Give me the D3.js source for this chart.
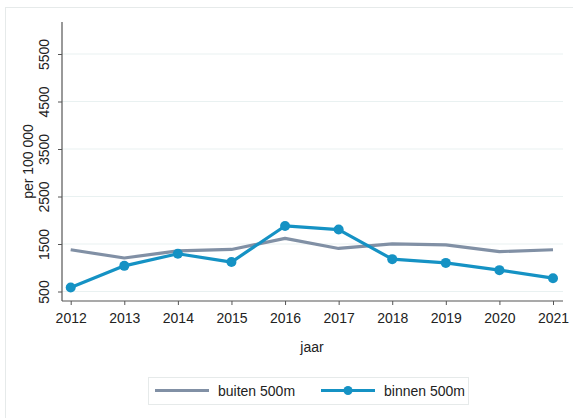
<!DOCTYPE html>
<html>
<head>
<meta charset="utf-8">
<script src="https://cdn.jsdelivr.net/npm/d3@7"></script>
<style>
  body { margin: 0; background: #fff; }
  svg { display: block; font-family: "Liberation Sans", Arial, sans-serif; }
</style>
</head>
<body>
<div id="chart"></div>
<script>
// Data
const years = [2012, 2013, 2014, 2015, 2016, 2017, 2018, 2019, 2020, 2021];
const buiten = [1379, 1205, 1354, 1385, 1619, 1406, 1503, 1482, 1340, 1379];
const binnen = [585, 1040, 1294, 1120, 1880, 1804, 1181, 1102, 950, 780];
const yTicks = [500, 1500, 2500, 3500, 4500, 5500];

const width = 573, height = 418;
const grey = "#8190a5", blue = "#1592c4";

const svg = d3.select("#chart")
    .append("svg")
    .attr("width", width)
    .attr("height", height);

// Outer frame
svg.append("rect")
    .attr("x", 5.5).attr("y", 7.5)
    .attr("width", 620).attr("height", 500)
    .attr("fill", "none")
    .attr("stroke", "#e6eaea");

// Scales
const xScale = d3.scaleLinear().domain([2012, 2021]).range([70.7, 553]);
const yScale = d3.scaleLinear().domain([300, 6174]).range([301, 22]);
const x0 = 62, x1 = 563;

// Gridlines
svg.append("g")
    .selectAll("line")
    .data(yTicks)
    .join("line")
    .attr("x1", x0).attr("x2", x1)
    .attr("y1", d => yScale(d)).attr("y2", d => yScale(d))
    .attr("stroke", "#e9f1f1")
    .attr("stroke-width", 1);

// Y axis
const yAxis = svg.append("g")
    .attr("transform", `translate(${x0},0)`)
    .call(d3.axisLeft(yScale).tickValues(yTicks).tickFormat(d3.format("d")).tickSize(4).tickSizeOuter(0));
yAxis.select(".domain").remove();
yAxis.selectAll(".tick line").attr("stroke", "#555");
yAxis.selectAll(".tick text")
    .attr("transform", "rotate(-90)")
    .attr("x", 0).attr("y", -13).attr("dy", 0)
    .attr("text-anchor", "middle")
    .style("font-size", "14px")
    .attr("fill", "#222");

// X axis
const xAxis = svg.append("g")
    .attr("transform", "translate(0,301)")
    .call(d3.axisBottom(xScale).tickValues(years).tickFormat(d3.format("d")).tickSize(4).tickPadding(8).tickSizeOuter(0));
xAxis.select(".domain").remove();
xAxis.selectAll(".tick line").attr("stroke", "#555");
xAxis.selectAll(".tick text").style("font-size", "14px").attr("fill", "#222");

// Axis lines
svg.append("line")
    .attr("x1", x0).attr("x2", x0).attr("y1", 22).attr("y2", 301)
    .attr("stroke", "#555").attr("stroke-width", 1.2);
svg.append("line")
    .attr("x1", x0).attr("x2", x1).attr("y1", 301).attr("y2", 301)
    .attr("stroke", "#555").attr("stroke-width", 1.2);

// Axis titles
svg.append("text")
    .attr("transform", `translate(33,161.5) rotate(-90)`)
    .attr("text-anchor", "middle")
    .style("font-size", "14px")
    .attr("fill", "#222")
    .text("per 100 000");

svg.append("text")
    .attr("x", 312).attr("y", 352)
    .attr("text-anchor", "middle")
    .style("font-size", "14px")
    .attr("fill", "#222")
    .text("jaar");

// Lines
const line = d3.line()
    .x(d => xScale(d[0]))
    .y(d => yScale(d[1]));

svg.append("path")
    .datum(d3.zip(years, buiten))
    .attr("d", line)
    .attr("fill", "none")
    .attr("stroke", grey)
    .attr("stroke-width", 3.2)
    .attr("stroke-linejoin", "round");

svg.append("path")
    .datum(d3.zip(years, binnen))
    .attr("d", line)
    .attr("fill", "none")
    .attr("stroke", blue)
    .attr("stroke-width", 3.2)
    .attr("stroke-linejoin", "round");

svg.append("g")
    .selectAll("circle")
    .data(d3.zip(years, binnen))
    .join("circle")
    .attr("cx", d => xScale(d[0]))
    .attr("cy", d => yScale(d[1]))
    .attr("r", 5)
    .attr("fill", blue);

// Legend
const legend = svg.append("g");
legend.append("rect")
    .attr("x", 148.5).attr("y", 377.5)
    .attr("width", 320).attr("height", 27)
    .attr("fill", "#fff")
    .attr("stroke", "#e6eaea");

legend.append("line")
    .attr("x1", 155).attr("x2", 209).attr("y1", 390.5).attr("y2", 390.5)
    .attr("stroke", grey).attr("stroke-width", 3.2);
legend.append("text")
    .attr("x", 218).attr("y", 395.5)
    .style("font-size", "14px").attr("fill", "#222")
    .text("buiten 500m");

legend.append("line")
    .attr("x1", 321).attr("x2", 375).attr("y1", 390.5).attr("y2", 390.5)
    .attr("stroke", blue).attr("stroke-width", 3.2);
legend.append("circle")
    .attr("cx", 348).attr("cy", 390.5).attr("r", 4.5)
    .attr("fill", blue);
legend.append("text")
    .attr("x", 384).attr("y", 395.5)
    .style("font-size", "14px").attr("fill", "#222")
    .text("binnen 500m");
</script>
</body>
</html>
